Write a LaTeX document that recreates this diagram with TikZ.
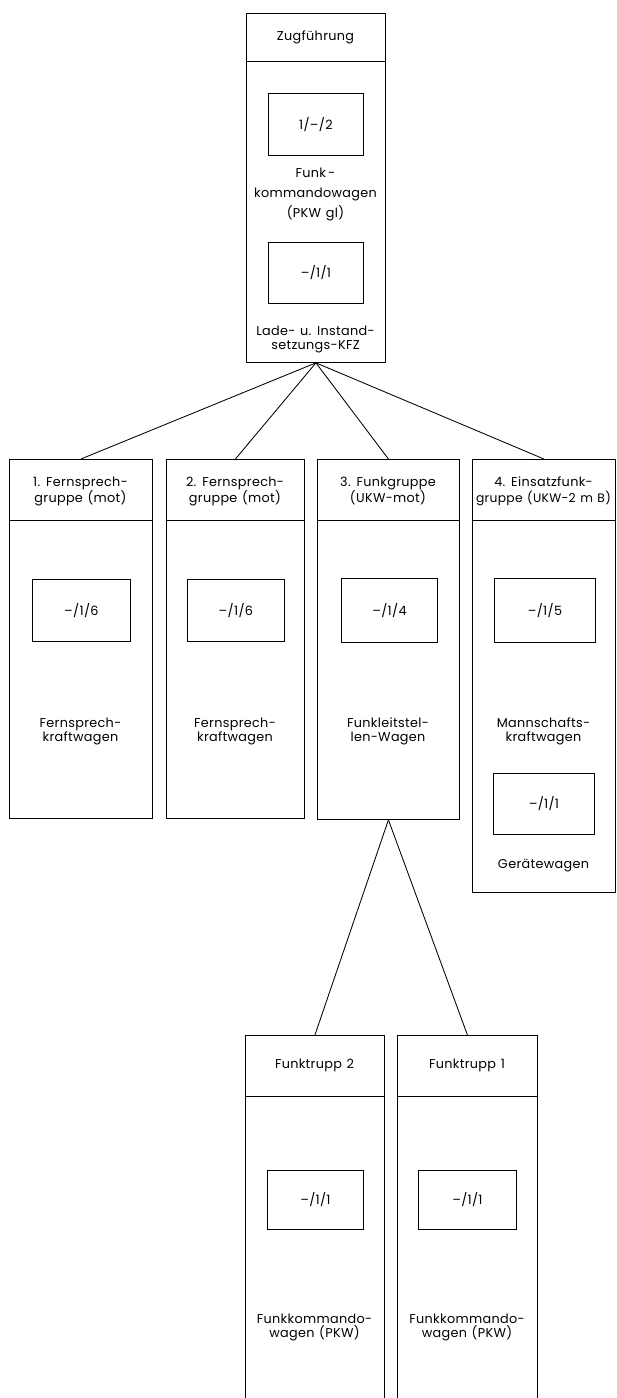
\documentclass[tikz,border=0pt]{standalone}
\usepackage{fontspec}
\setmainfont{Poppins}[LetterSpace=2.5,WordSpace=1.25]
\begin{document}
\begin{tikzpicture}[x=1pt,y=-1pt,line width=0.85pt]
\tikzset{
  box/.style={draw, line width=0.85pt, inner sep=0pt, anchor=north west},
  txt/.style={align=center, inner sep=0pt, font=\fontsize{12.8}{16}\selectfont},
  two/.style={font=\fontsize{12.8}{14}\selectfont},
  conn/.style={line width=0.85pt}
}
\useasboundingbox (0,0) rectangle (616,1398);
% ---- top box
\node[box, minimum width=139pt, minimum height=349pt] (top) at (246,13) {};
\draw (246,61) -- (385,61);
\node[txt] (topH) at (315.5,37) {Zugführung};
\node[box, minimum width=95pt, minimum height=62pt] (tv1) at (268,93) {};
\node[txt] (tv1t) at (tv1.center) {1/–/2};
\node[txt, font=\fontsize{12.8}{20}\selectfont] (tv1n) at (315.5,194) {Funk\,-\\kommandowagen\\(PKW gl)};
\node[box, minimum width=95pt, minimum height=61pt] (tv2) at (268,242) {};
\node[txt] (tv2t) at (tv2.center) {–/1/1};
\node[txt, two] (tv2n) at (315.5,339) {Lade- u. Instand-\\setzungs-KFZ};
% ---- group 1
\node[box, minimum width=143pt, minimum height=359pt] (g1) at (9,459) {};
\draw (9,520) -- (152,520);
\node[txt] (g1h) at (80.5,491) {1. Fernsprech-\\gruppe (mot)};
\node[box, minimum width=98pt, minimum height=62pt] (g1v) at (32,579) {};
\node[txt] (g1vt) at (g1v.center) {–/1/6};
\node[txt, two] (g1n) at (80.5,731) {Fernsprech-\\kraftwagen};
% ---- group 2
\node[box, minimum width=138pt, minimum height=359pt] (g2) at (166,459) {};
\draw (166,520) -- (304,520);
\node[txt] (g2h) at (235,491) {2. Fernsprech-\\gruppe (mot)};
\node[box, minimum width=97pt, minimum height=62pt] (g2v) at (187,579) {};
\node[txt] (g2vt) at (g2v.center) {–/1/6};
\node[txt, two] (g2n) at (235,731) {Fernsprech-\\kraftwagen};
% ---- group 3
\node[box, minimum width=142pt, minimum height=360pt] (g3) at (317,459) {};
\draw (317,520) -- (459,520);
\node[txt] (g3h) at (388,491) {3. Funkgruppe\\(UKW-mot)};
\node[box, minimum width=96pt, minimum height=64pt] (g3v) at (341,578) {};
\node[txt] (g3vt) at (g3v.center) {–/1/4};
\node[txt, two] (g3n) at (388,731) {Funkleitstel-\\len-Wagen};
% ---- group 4
\node[box, minimum width=143pt, minimum height=433pt] (g4) at (472,459) {};
\draw (472,520) -- (615,520);
\node[txt] (g4h) at (543.5,491) {4. Einsatzfunk-\\{\fontsize{12.3}{16}\selectfont gruppe (UKW-2 m B)}};
\node[box, minimum width=101pt, minimum height=64pt] (g4v) at (494,578) {};
\node[txt] (g4vt) at (g4v.center) {–/1/5};
\node[txt, two] (g4n) at (543.5,731) {Mannschafts-\\kraftwagen};
\node[box, minimum width=101pt, minimum height=61pt] (g4w) at (493,773) {};
\node[txt] (g4wt) at (g4w.center) {–/1/1};
\node[txt] (g4wn) at (543.5,866) {Gerätewagen};
% ---- Funktrupp 2
\node[box, minimum width=139pt, minimum height=420pt] (ft2) at (245,1035) {};
\draw (245,1096) -- (384,1096);
\node[txt] (ft2h) at (314.5,1065) {Funktrupp 2};
\node[box, minimum width=96pt, minimum height=59pt] (ft2v) at (267,1170) {};
\node[txt] (ft2vt) at (ft2v.center) {–/1/1};
\node[txt, two] (ft2n) at (314.5,1327) {Funkkommando-\\wagen (PKW)};
% ---- Funktrupp 1
\node[box, minimum width=140pt, minimum height=420pt] (ft1) at (397,1035) {};
\draw (397,1096) -- (537,1096);
\node[txt] (ft1h) at (467,1065) {Funktrupp 1};
\node[box, minimum width=98pt, minimum height=59pt] (ft1v) at (418,1170) {};
\node[txt] (ft1vt) at (ft1v.center) {–/1/1};
\node[txt, two] (ft1n) at (467,1327) {Funkkommando-\\wagen (PKW)};
% ---- connectors
\draw[conn] (top.south) -- (g1.north);
\draw[conn] (top.south) -- (g2.north);
\draw[conn] (top.south) -- (g3.north);
\draw[conn] (top.south) -- (g4.north);
\draw[conn] (g3.south) -- (ft2.north);
\draw[conn] (g3.south) -- (ft1.north);
\end{tikzpicture}
\end{document}
